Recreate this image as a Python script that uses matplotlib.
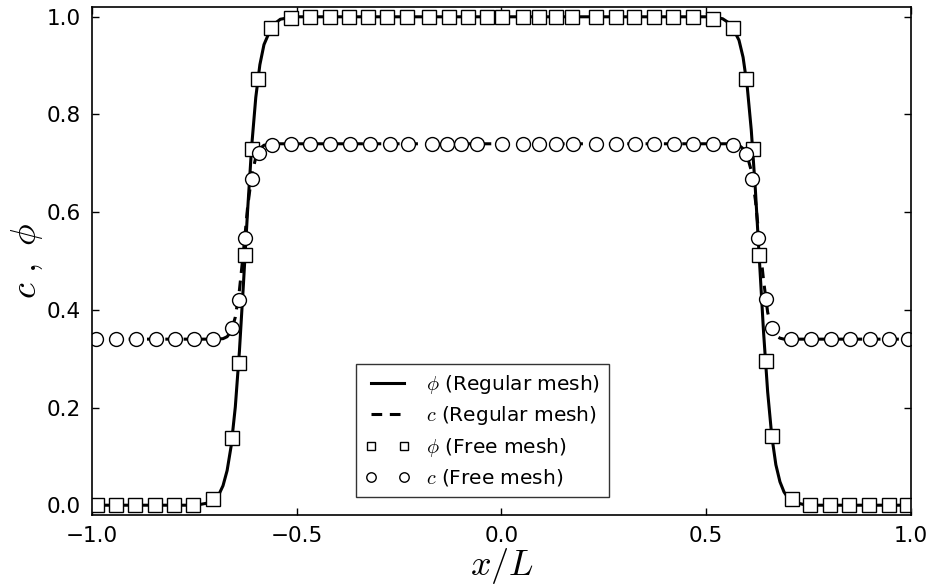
import matplotlib
matplotlib.use("Agg")
import matplotlib.pyplot as plt

plt.rcParams["mathtext.fontset"] = "cm"
plt.rcParams["font.family"] = ["DejaVu Sans"]

# regular mesh: phi
x_phi = [-1.0, -0.76, -0.74, -0.72, -0.70, -0.69, -0.68, -0.67, -0.66, -0.65, -0.64, -0.63,
         -0.62, -0.61, -0.60, -0.59, -0.58, -0.56, -0.54, -0.52, -0.50,
         0.50, 0.52, 0.54, 0.56, 0.58, 0.59, 0.60, 0.61, 0.62, 0.63, 0.64, 0.65,
         0.66, 0.67, 0.68, 0.69, 0.70, 0.72, 0.74, 0.76, 1.0]
phi_reg = [0.0, 0.0, 0.001, 0.004, 0.013, 0.022, 0.040, 0.071, 0.122, 0.201, 0.315, 0.455,
           0.603, 0.735, 0.835, 0.902, 0.943, 0.982, 0.995, 0.998, 1.0,
           1.0, 0.999, 0.996, 0.985, 0.952, 0.917, 0.858, 0.768, 0.646, 0.500, 0.354, 0.232,
           0.142, 0.083, 0.048, 0.027, 0.015, 0.005, 0.001, 0.0, 0.0]

# regular mesh: c
x_c = [-1.0, -0.70, -0.68, -0.67, -0.66, -0.65, -0.64, -0.63, -0.62, -0.61, -0.60,
       -0.59, -0.58, -0.56, 0.56, 0.58, 0.59, 0.60, 0.61, 0.62, 0.63, 0.64, 0.65,
       0.66, 0.67, 0.68, 0.69, 0.70, 1.0]
c_reg = [0.34, 0.34, 0.341, 0.345, 0.356, 0.385, 0.44, 0.52, 0.61, 0.675, 0.712,
         0.73, 0.737, 0.74, 0.74, 0.737, 0.73, 0.715, 0.685, 0.625, 0.54, 0.46, 0.395,
         0.36, 0.347, 0.342, 0.34, 0.34, 0.34]

# free mesh: phi
x_sq = [-0.988, -0.941, -0.895, -0.846, -0.800, -0.753, -0.705, -0.657, -0.641, -0.626,
        -0.610, -0.594, -0.563, -0.514, -0.468, -0.419, -0.372, -0.326, -0.280, -0.231,
        -0.177, -0.128, -0.082, -0.035, 0.002, 0.052, 0.092, 0.133, 0.172, 0.231,
        0.280, 0.324, 0.372, 0.419, 0.468, 0.516, 0.565, 0.597, 0.615, 0.629,
        0.645, 0.660, 0.709, 0.753, 0.802, 0.849, 0.898, 0.947, 0.990]
phi_free = [0.0, 0.0, 0.0, 0.0, 0.0, 0.0, 0.013, 0.138, 0.292, 0.512,
            0.729, 0.873, 0.978, 0.997, 1.0, 1.0, 1.0, 1.0, 1.0, 1.0,
            1.0, 1.0, 1.0, 1.0, 1.0, 1.0, 1.0, 1.0, 1.0, 1.0,
            1.0, 1.0, 1.0, 1.0, 1.0, 0.995, 0.978, 0.873, 0.729, 0.512,
            0.295, 0.142, 0.013, 0.0, 0.0, 0.0, 0.0, 0.0, 0.0]

# free mesh: c
x_ci = [-0.989, -0.941, -0.892, -0.844, -0.797, -0.751, -0.704, -0.657, -0.641, -0.626,
        -0.610, -0.592, -0.561, -0.515, -0.468, -0.419, -0.370, -0.321, -0.272, -0.228,
        -0.170, -0.134, -0.100, -0.061, 0.002, 0.053, 0.092, 0.133, 0.174, 0.232,
        0.280, 0.326, 0.372, 0.421, 0.468, 0.517, 0.566, 0.597, 0.612, 0.627,
        0.645, 0.660, 0.708, 0.755, 0.804, 0.851, 0.900, 0.947, 0.993]
c_free = [0.34, 0.34, 0.34, 0.34, 0.34, 0.34, 0.34, 0.362, 0.421, 0.548,
          0.667, 0.722, 0.738, 0.74, 0.74, 0.74, 0.74, 0.74, 0.74, 0.74,
          0.74, 0.74, 0.74, 0.74, 0.74, 0.74, 0.74, 0.74, 0.74, 0.74,
          0.74, 0.74, 0.74, 0.74, 0.74, 0.74, 0.738, 0.720, 0.667, 0.548,
          0.423, 0.362, 0.34, 0.34, 0.34, 0.34, 0.34, 0.34, 0.34]

fig = plt.figure(figsize=(9.31, 5.85), dpi=100)
ax = fig.add_axes([0.0988, 0.1197, 0.8797, 0.8683])

ax.plot(x_phi, phi_reg, "k-", lw=2.2, label=r"$\phi$ (Regular mesh)")
ax.plot(x_c, c_reg, "k--", lw=2.2, dashes=(3.5, 2.5), label=r"$c$ (Regular mesh)")
ax.plot(x_sq, phi_free, ls="none", marker="s", ms=9.5, mfc="white", mec="black",
        mew=1.0, label=r"$\phi$ (Free mesh)")
ax.plot(x_ci, c_free, ls="none", marker="o", ms=10, mfc="white", mec="black",
        mew=1.0, label=r"$c$ (Free mesh)")

ax.set_xlim(-1.0, 1.0)
ax.set_ylim(-0.02, 1.02)
ax.set_xticks([-1.0, -0.5, 0.0, 0.5, 1.0])
ax.set_yticks([0.0, 0.2, 0.4, 0.6, 0.8, 1.0])
ax.tick_params(direction="in", top=True, right=True, length=5, width=1,
               labelsize=15.5, pad=8)
for s in ax.spines.values():
    s.set_linewidth(1.2)

ax.set_xlabel(r"$x/L$", fontsize=26, labelpad=0)
ax.set_ylabel(r"$c\ ,\ \phi$", fontsize=26, labelpad=1)

leg = ax.legend(loc="lower center", bbox_to_anchor=(0.477, 0.035), borderaxespad=0,
                numpoints=2, markerscale=0.68, fontsize=14.5, fancybox=False,
                frameon=True, edgecolor="black", handlelength=2.2, labelspacing=0.42,
                borderpad=0.45)
leg.get_frame().set_linewidth(1.0)

fig.savefig("out.png", dpi=100)
